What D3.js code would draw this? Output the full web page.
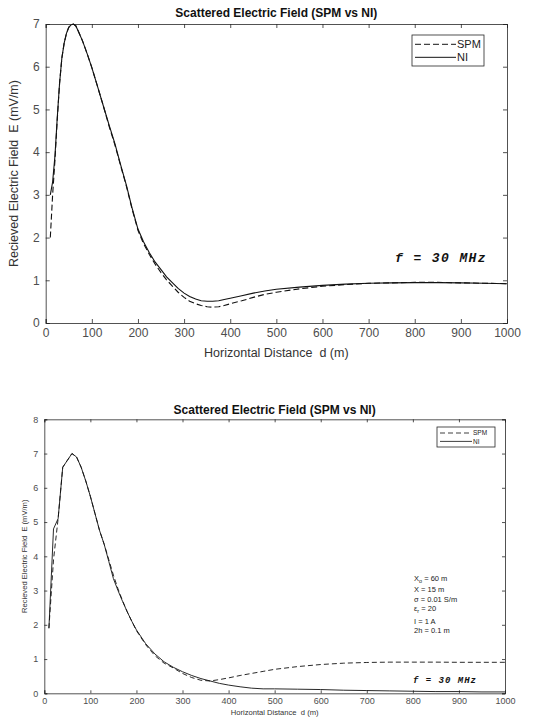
<!DOCTYPE html>
<html><head><meta charset="utf-8">
<script src="https://cdn.jsdelivr.net/npm/d3@7"></script>
<style>body{margin:0;background:#fff}svg{display:block}text{white-space:pre}</style>
</head><body>
<svg id="c" width="533" height="722"></svg>
<script>
// ---- Data: top chart ----
const topX   = [10, 15, 20, 25, 30, 35, 40, 45, 50, 55, 60, 65, 70, 80, 90, 100, 112, 125, 137, 150, 162, 175, 187, 200, 212, 225, 237, 250, 262, 275, 287, 300, 312, 325, 337, 350, 362, 375, 387, 400, 425, 450, 475, 500, 550, 600, 650, 700, 750, 800, 850, 900, 950, 1000];
const topNI  = [3.0, 3.3, 3.9, 4.8, 5.6, 6.2, 6.55, 6.78, 6.92, 6.98, 7.0, 6.96, 6.85, 6.6, 6.3, 5.98, 5.55, 5.08, 4.65, 4.2, 3.72, 3.22, 2.7, 2.2, 1.9, 1.64, 1.43, 1.25, 1.08, 0.94, 0.81, 0.70, 0.62, 0.56, 0.52, 0.51, 0.51, 0.52, 0.55, 0.58, 0.64, 0.70, 0.75, 0.79, 0.84, 0.88, 0.91, 0.93, 0.94, 0.945, 0.945, 0.94, 0.93, 0.92];
const topSPM = [2.0, 3.0, 3.8, 4.75, 5.6, 6.2, 6.55, 6.78, 6.92, 6.98, 7.0, 6.96, 6.85, 6.6, 6.3, 5.98, 5.55, 5.08, 4.62, 4.17, 3.70, 3.20, 2.68, 2.17, 1.86, 1.60, 1.38, 1.18, 1.01, 0.86, 0.72, 0.60, 0.51, 0.45, 0.41, 0.38, 0.37, 0.38, 0.41, 0.45, 0.52, 0.60, 0.67, 0.72, 0.80, 0.86, 0.90, 0.93, 0.94, 0.95, 0.95, 0.94, 0.93, 0.92];

// ---- Data: bottom chart ----
const botX   = [10, 20, 30, 40, 50, 60, 70, 80, 90, 100, 110, 120, 130, 140, 150, 160, 170, 180, 190, 200, 220, 240, 260, 280, 300, 320, 340, 360, 380, 400, 425, 450, 475, 500, 550, 600, 650, 700, 750, 800, 850, 900, 950, 1000];
const botNI  = [1.9, 4.8, 5.1, 6.6, 6.8, 7.0, 6.9, 6.6, 6.2, 5.75, 5.25, 4.75, 4.35, 3.85, 3.35, 3.0, 2.68, 2.38, 2.1, 1.85, 1.45, 1.15, 0.92, 0.76, 0.63, 0.52, 0.43, 0.36, 0.29, 0.24, 0.19, 0.15, 0.13, 0.13, 0.12, 0.11, 0.09, 0.08, 0.07, 0.06, 0.05, 0.05, 0.04, 0.04];
const botSPM = [1.9, 3.9, 5.1, 6.6, 6.8, 7.0, 6.9, 6.6, 6.2, 5.75, 5.25, 4.75, 4.35, 3.9, 3.45, 3.05, 2.7, 2.38, 2.1, 1.83, 1.42, 1.1, 0.88, 0.74, 0.58, 0.46, 0.38, 0.36, 0.40, 0.45, 0.52, 0.58, 0.64, 0.70, 0.78, 0.84, 0.88, 0.90, 0.91, 0.91, 0.91, 0.905, 0.905, 0.905];

const xTicks = [0, 100, 200, 300, 400, 500, 600, 700, 800, 900, 1000];
const yTicksTop = [0, 1, 2, 3, 4, 5, 6, 7];
const yTicksBot = [0, 1, 2, 3, 4, 5, 6, 7, 8];
const params = [["X", "o", " = 60 m"], ["X = 15 m", "", ""], ["σ = 0.01 S/m", "", ""], ["ε", "r", " = 20"], ["I = 1 A", "", ""], ["2h = 0.1 m", "", ""]];

const svg = d3.select("#c");
const FONT = "Liberation Sans, Arial, sans-serif";

function panel(cfg) {
  const g = svg.append("g");
  const x = d3.scaleLinear().domain([0, 1000]).range([cfg.l, cfg.r]);
  const y = d3.scaleLinear().domain([0, cfg.ymax]).range([cfg.b, cfg.t]);
  const tl = cfg.tickLen;
  const ax = g.append("g").attr("transform", `translate(0,${cfg.b})`)
    .call(d3.axisBottom(x).tickValues(xTicks).tickSize(-tl).tickPadding(cfg.tpad).tickFormat(d3.format("d")));
  const axT = g.append("g").attr("transform", `translate(0,${cfg.t})`)
    .call(d3.axisTop(x).tickValues(xTicks).tickSize(-tl).tickFormat(""));
  const ay = g.append("g").attr("transform", `translate(${cfg.l},0)`)
    .call(d3.axisLeft(y).tickValues(cfg.yTicks).tickSize(-tl).tickPadding(cfg.tpadY).tickFormat(d3.format("d")));
  const ayR = g.append("g").attr("transform", `translate(${cfg.r},0)`)
    .call(d3.axisRight(y).tickValues(cfg.yTicks).tickSize(-tl).tickFormat(""));
  [ax, axT, ay, ayR].forEach(a => {
    a.select(".domain").attr("stroke", "#262626").attr("stroke-width", 0.8);
    a.selectAll(".tick line").attr("stroke", "#262626").attr("stroke-width", 0.8);
    a.selectAll("text").attr("fill", "#4d4d4d").style("font-family", FONT).style("font-size", cfg.tickFont + "px");
  });
  const line = d3.line().x((d, i) => x(cfg.xs[i])).y(d => y(d));
  g.append("path").datum(cfg.spm).attr("d", line).attr("fill", "none")
    .attr("stroke", "#111").attr("stroke-width", cfg.lw).attr("stroke-dasharray", cfg.dash);
  g.append("path").datum(cfg.ni).attr("d", line).attr("fill", "none")
    .attr("stroke", "#111").attr("stroke-width", cfg.lw);
  g.append("text").attr("x", (cfg.l + cfg.r) / 2).attr("y", cfg.titleY).attr("text-anchor", "middle")
    .style("font-family", FONT).style("font-weight", "bold").style("font-size", cfg.titleFont + "px")
    .attr("fill", "#111").text("Scattered Electric Field (SPM vs NI)");
  g.append("text").attr("x", (cfg.l + cfg.r) / 2).attr("y", cfg.xlabY).attr("text-anchor", "middle")
    .style("font-family", FONT).style("font-size", cfg.labFont + "px").attr("fill", "#333")
    .text("Horizontal Distance  d (m)");
  g.append("text").attr("transform", `translate(${cfg.ylabX},${(cfg.t + cfg.b) / 2}) rotate(-90)`)
    .attr("text-anchor", "middle")
    .style("font-family", FONT).style("font-size", cfg.labFont + "px").attr("fill", "#333")
    .text("Recieved Electric Field  E (mV/m)");
  const L = cfg.leg;
  g.append("rect").attr("x", L.x).attr("y", L.y).attr("width", L.w).attr("height", L.h)
    .attr("fill", "#fff").attr("stroke", "#262626").attr("stroke-width", 0.8);
  const items = [["SPM", cfg.dash], ["NI", null]];
  items.forEach((it, i) => {
    const yy = L.y + L.h * (i === 0 ? 0.3 : 0.72);
    g.append("line").attr("x1", L.x + L.pad).attr("x2", L.x + L.pad + L.lineW).attr("y1", yy).attr("y2", yy)
      .attr("stroke", "#111").attr("stroke-width", cfg.lw * 0.9).attr("stroke-dasharray", it[1]);
    g.append("text").attr("x", L.x + L.pad + L.lineW + 1).attr("y", yy).attr("dy", "0.35em")
      .style("font-family", FONT).style("font-size", L.font + "px").attr("fill", "#222").text(it[0]);
  });
  g.append("text").attr("x", cfg.fx).attr("y", cfg.fy)
    .style("font-family", "Liberation Mono, Courier New, monospace").style("font-weight", "bold")
    .style("font-style", "italic").style("font-size", cfg.fFont + "px").style("letter-spacing", cfg.fLs + "px")
    .attr("fill", "#111").text("f = 30 MHz");
  return {g, x, y};
}

panel({l: 45.7, r: 507, t: 24, b: 323, ymax: 7, yTicks: yTicksTop, xs: topX, ni: topNI, spm: topSPM,
  tickLen: 4, tpad: 5, tpadY: 6, tickFont: 12, lw: 1.1, dash: "6,3",
  titleY: 17, titleFont: 12, xlabY: 357, ylabX: 18, labFont: 12.5,
  leg: {x: 412, y: 35, w: 72, h: 31, pad: 3, lineW: 41, font: 11},
  fx: 395, fy: 262, fFont: 13, fLs: 1.4});

const bot = panel({l: 44.3, r: 505, t: 419.3, b: 693.3, ymax: 8, yTicks: yTicksBot, xs: botX, ni: botNI, spm: botSPM,
  tickLen: 3, tpad: 4, tpadY: 6, tickFont: 9, lw: 0.9, dash: "5,3",
  titleY: 414, titleFont: 12, xlabY: 715, ylabX: 27, labFont: 7.6,
  leg: {x: 437, y: 427, w: 58, h: 20, pad: 3, lineW: 32, font: 6.5},
  fx: 413, fy: 683, fFont: 9, fLs: 1.0});

const pg = bot.g.append("g").style("font-family", FONT).style("font-size", "7.5px").attr("fill", "#222");
const pys = [581, 592, 602, 611, 624, 633];
params.forEach((p, i) => {
  const t = pg.append("text").attr("x", 414).attr("y", pys[i]);
  t.append("tspan").text(p[0]);
  if (p[1]) {
    t.append("tspan").attr("dy", 2).style("font-size", "5.5px").text(p[1]);
    t.append("tspan").attr("dy", -2).text(p[2]);
  }
});
</script>
</body></html>
